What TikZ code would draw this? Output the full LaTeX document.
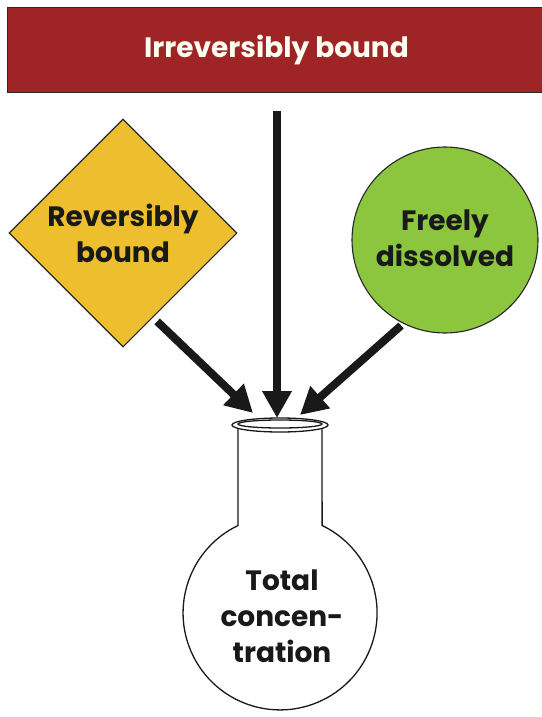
\documentclass[tikz,border=0pt]{standalone}
\usepackage{fontspec}
\setmainfont{Poppins}
\usepackage{tikz}
\usetikzlibrary{shapes.geometric,arrows.meta,calc,backgrounds}

\definecolor{bannerred}{HTML}{9E2426}
\definecolor{signyellow}{HTML}{EDBF2F}
\definecolor{leafgreen}{HTML}{8CC63F}

\begin{document}
\begin{tikzpicture}[x=1pt,y=-1pt]
%[show background grid]
\useasboundingbox (0,0) rectangle (541,717);

\tikzstyle{label text} = [font=\bfseries\fontsize{28}{36}\selectfont,align=center,text=black!90]
\tikzstyle{every node} = [draw=black!85,line width=1.1pt,inner sep=0pt]
\tikzstyle{bigarrow} = [line width=8pt,black!90,-{Triangle[width=28pt,length=27pt]}]

% source boxes
\path (7,7) node[anchor=north west,rectangle,fill=bannerred,minimum width=538,minimum height=85,
      label text,text=white!95!yellow] (irrev) {Irreversibly bound};
\path (123,233) node[diamond,fill=signyellow,minimum width=228,minimum height=228,label text] (revbound)
      {Reversibly\\bound};
\path (445,240) node[circle,fill=leafgreen,minimum size=186,label text] (freediss)
      {\raisebox{4pt}{Freely}\\\raisebox{4pt}{dissolved}};

% flask
\coordinate (mouth) at (280,425);
\begin{scope}[line width=1.3pt,black!90]
\draw (238,428) -- (238,525.5) arc[start angle=244.3,end angle=-64.3,radius=97] -- (322,428);
\draw[fill=white] (mouth) ellipse[x radius=48,y radius=7];
\draw ($(mouth)+(0,-1)$) ellipse[x radius=42,y radius=4];
\end{scope}
\path (282,616) node[draw=none,label text] (total) {Total\\concen-\\tration};

% arrows
\draw[bigarrow] (irrev.south -| 277,0) ++(0,18) -- ($(mouth)+(-3,-7)$);
\draw[bigarrow] (revbound.-67) ++(0,8) -- ($(mouth)+(-27,-12)$);
\draw[bigarrow] (freediss.-118) ++(0,3) -- ($(mouth)+(20,-10)$);

\end{tikzpicture}
\end{document}
